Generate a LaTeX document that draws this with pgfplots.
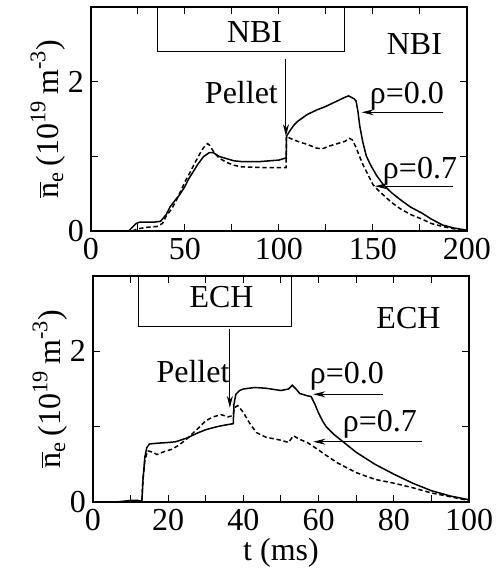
\documentclass[border=0pt]{standalone}
\usepackage{fontspec}
\setmainfont{Liberation Serif}
\usepackage{pgfplots}
\pgfplotsset{compat=1.18}
\usetikzlibrary{arrows.meta}
\newcommand{\fs}{\fontsize{16}{19}\selectfont}
\tikzset{arr/.style={line width=0.5pt, -{Stealth[length=6pt,width=3pt]}},
  lab/.style={font=\fs, inner sep=0pt}}
\pgfplotsset{panel/.style={
  scale only axis, width=188pt, ymin=0, ymax=3,
  ytick={0,1,2}, yticklabels={0,,2},
  tick align=inside, major tick length=3.5pt,
  axis line style={line width=0.6pt},
  every tick/.style={black, line width=0.5pt},
  tick label style={font=\fs},
  /pgf/number format/assume math mode=true,
  clip=false,
  ylabel={$\overline{\mbox{n}}$\textsubscript{e}\,(10\textsuperscript{19}\,m\textsuperscript{-3})},
  ylabel style={font=\fs, at={(axis description cs:-0.115,0.5)}, anchor=center},
},
solidc/.style={black, line width=0.75pt},
dashc/.style={black, line width=0.75pt, dash pattern=on 2.2pt off 1.4pt}}
\begin{document}
\begin{tikzpicture}
\path[use as bounding box] (0,0) rectangle (249.5pt,284pt);
% ---------- NBI ----------
\begin{axis}[panel, height=112pt, at={(45.5pt,168.5pt)}, anchor=south west,
  xmin=0, xmax=200, xtick={0,25,...,200}, xticklabels={0,,50,,100,,150,,200}]
\addplot[solidc] coordinates {(20,0.0) (22,0.05) (24,0.1) (26,0.12) (30,0.12) (34,0.12) (37,0.13) (40,0.22) (42,0.32) (45,0.42) (47,0.48) (50,0.6) (52,0.7) (55,0.82) (57,0.9) (60,1.0) (63,1.05) (65,1.05) (68,1.0) (72,0.97) (76,0.94) (80,0.93) (85,0.93) (90,0.93) (95,0.94) (100,0.95) (103.8,0.98) (104,1.27) (106,1.35) (108,1.42) (110,1.47) (115,1.56) (120,1.62) (125,1.67) (130,1.73) (135,1.79) (137,1.81) (140,1.77) (141,1.74) (142,1.6) (143,1.4) (144.5,1.2) (146.5,1.0) (149,0.87) (152,0.74) (155.5,0.62) (160,0.51) (164.5,0.42) (170,0.32) (176,0.24) (181,0.16) (187,0.08) (193,0.04) (200,0.01)};
\addplot[dashc] coordinates {(22,0.0) (25,0.03) (30,0.05) (35,0.06) (38,0.1) (40,0.2) (43,0.3) (45,0.39) (48,0.55) (50,0.66) (53,0.8) (55,0.9) (58,1.04) (60,1.12) (62,1.17) (63,1.15) (65,1.07) (68,0.98) (72,0.92) (76,0.88) (80,0.86) (90,0.85) (100,0.85) (103.8,0.85) (104,1.27) (106,1.24) (110,1.2) (115,1.16) (120,1.11) (123,1.1) (127,1.14) (131,1.17) (135,1.2) (137.5,1.24) (139,1.22) (141,1.12) (142.8,1.0) (145,0.87) (148,0.72) (150,0.62) (153,0.54) (156,0.47) (160,0.38) (164.4,0.3) (170,0.22) (176,0.16) (181,0.1) (187,0.06) (193,0.03) (200,0.0)};
\draw[line width=0.5pt] (axis cs:35.6,3) -- (axis cs:35.6,2.4) -- (axis cs:134.6,2.4) -- (axis cs:134.6,3);
\node[lab] at (axis cs:87,2.66) {NBI};
\node[lab] at (axis cs:172,2.5) {NBI};
\draw[arr] (axis cs:103.7,2.31) -- (axis cs:103.7,1.27);
\node[lab] at (axis cs:80,1.85) {Pellet};
\node[lab] at (axis cs:168,1.8) {ρ=0.0};
\draw[arr] (axis cs:187.4,1.59) -- (axis cs:144,1.59);
\node[lab] at (axis cs:175,0.8) {ρ=0.7};
\draw[arr] (axis cs:192.7,0.6) -- (axis cs:151,0.6);
\end{axis}
% ---------- ECH ----------
\begin{axis}[panel, height=113pt, at={(46.5pt,33pt)}, anchor=south west,
  xmin=0, xmax=100, xtick={0,10,...,100}, xticklabels={0,,20,,40,,60,,80,,100},
  xlabel={t (ms)}, xlabel style={font=\fs, at={(axis description cs:0.5,0)}, anchor=center, yshift=-25.5pt}]
\addplot[solidc] coordinates {(6,0.0) (8,0.01) (10,0.02) (12,0.02) (13,0.01) (13.3,0.3) (13.8,0.6) (14.3,0.72) (15,0.77) (17,0.78) (20,0.79) (22,0.8) (25,0.85) (28,0.92) (30,0.96) (33,1.0) (35,1.02) (37.3,1.04) (37.5,1.3) (38,1.43) (39,1.48) (40,1.5) (43,1.52) (46,1.51) (50,1.48) (52,1.5) (53,1.55) (54,1.5) (55,1.44) (57,1.41) (58,1.4) (59,1.3) (60,1.18) (61,1.08) (62,1.0) (64,0.9) (66,0.82) (70,0.66) (75,0.5) (80,0.37) (85,0.25) (90,0.15) (95,0.08) (100,0.03)};
\addplot[dashc] coordinates {(13,0.02) (13.3,0.3) (13.8,0.55) (14.5,0.68) (16,0.66) (17,0.63) (19,0.67) (21,0.7) (23,0.76) (25,0.84) (28,0.98) (30,1.08) (32,1.13) (34,1.16) (36,1.13) (37.3,1.15) (37.6,1.25) (38.5,1.28) (40,1.19) (41,1.1) (42,1.02) (43.5,0.92) (46,0.86) (50,0.82) (52,0.79) (53.3,0.88) (55,0.83) (57,0.79) (60,0.69) (62,0.62) (65,0.52) (70,0.39) (75,0.3) (80,0.25) (85,0.19) (90,0.12) (95,0.07) (100,0.02)};
\draw[line width=0.5pt] (axis cs:12.2,3) -- (axis cs:12.2,2.33) -- (axis cs:52.7,2.33) -- (axis cs:52.7,3);
\node[lab] at (axis cs:34.2,2.72) {ECH};
\node[lab] at (axis cs:83.9,2.44) {ECH};
\draw[arr] (axis cs:36.4,2.3) -- (axis cs:36.4,1.25);
\node[lab] at (axis cs:26.6,1.73) {Pellet};
\node[lab] at (axis cs:67.5,1.67) {ρ=0.0};
\draw[arr] (axis cs:77.2,1.43) -- (axis cs:58.6,1.43);
\node[lab] at (axis cs:76.3,1.03) {ρ=0.7};
\draw[arr] (axis cs:87.4,0.8) -- (axis cs:58.6,0.8);
\end{axis}
\end{tikzpicture}
\end{document}
